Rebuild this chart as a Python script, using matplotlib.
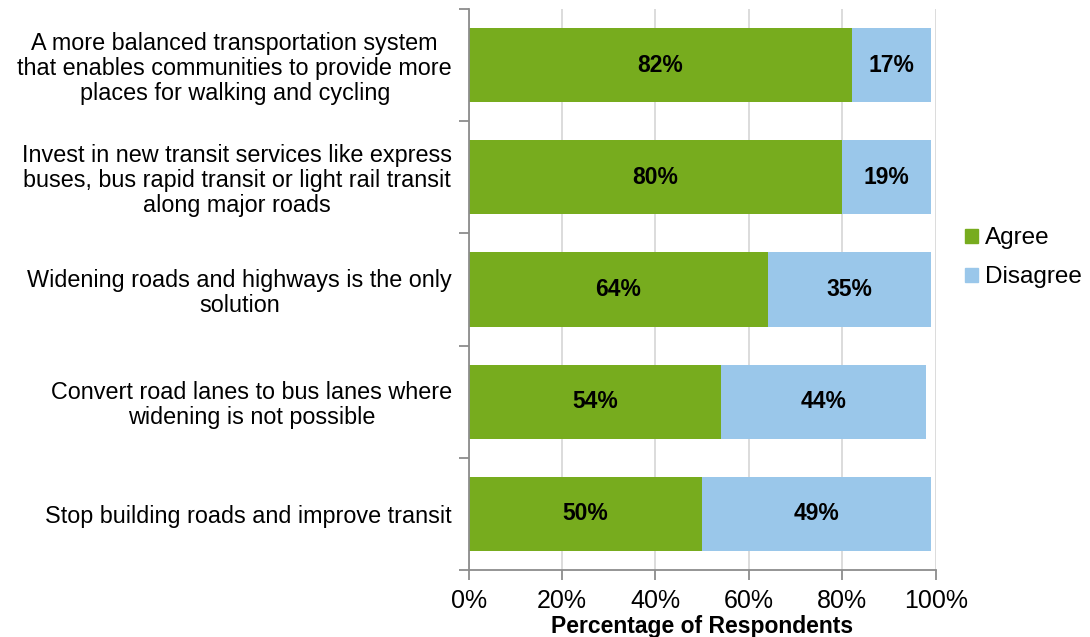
import numpy as np
import matplotlib.pyplot as plt
from matplotlib.patches import Patch

plt.rcParams['font.family'] = ['Liberation Sans', 'DejaVu Sans']

statements = [
    "A more balanced transportation system\nthat enables communities to provide more\nplaces for walking and cycling",
    "Invest in new transit services like express\nbuses, bus rapid transit or light rail transit\nalong major roads",
    "Widening roads and highways is the only\nsolution",
    "Convert road lanes to bus lanes where\nwidening is not possible",
    "Stop building roads and improve transit",
]
agree = [82, 80, 64, 54, 50]
disagree = [17, 19, 35, 44, 49]
x_ticks = [0, 20, 40, 60, 80, 100]

green = '#77AC1E'
blue = '#9AC7EA'
axis_grey = '#8C8C8C'

fig = plt.figure(figsize=(10.9, 6.37), dpi=100)
ax = fig.add_axes([0.430, 0.1052, 0.4284, 0.8807])

y = np.arange(len(statements))
h = 0.66
ax.barh(y, agree, height=h, color=green, zorder=2)
ax.barh(y, disagree, left=agree, height=h, color=blue, zorder=2)

for i in range(len(y)):
    ax.text(agree[i] / 2, y[i], f"{agree[i]}%", ha='center', va='center',
            fontsize=16.5, fontweight='bold', zorder=3)
    ax.text(agree[i] + disagree[i] / 2, y[i], f"{disagree[i]}%", ha='center',
            va='center', fontsize=16.5, fontweight='bold', zorder=3)

ax.set_xlim(0, 100)
ax.set_ylim(len(statements) - 0.5, -0.5)
ax.set_xticks(x_ticks)
ax.set_xticklabels([f"{t}%" for t in x_ticks], fontsize=18)
ax.xaxis.grid(True, color='#D9D9D9', linewidth=1.3, zorder=0)

# category names centred in the band, short ticks on the band edges
ax.set_yticks(y)
ax.set_yticklabels(statements, fontsize=16.8)
for lab in ax.get_yticklabels():
    lab.set_multialignment('center')
    lab.set_linespacing(1.1)
ax.set_yticks(np.arange(-0.5, len(statements)), minor=True)
ax.tick_params(axis='y', which='major', length=0, pad=12)
ax.tick_params(axis='y', which='minor', length=7, color=axis_grey, width=1.3)
ax.tick_params(axis='x', length=7, color=axis_grey, width=1.3, pad=7)

for side in ['top', 'right']:
    ax.spines[side].set_visible(False)
for side in ['left', 'bottom']:
    ax.spines[side].set_color(axis_grey)
    ax.spines[side].set_linewidth(1.3)

ax.set_xlabel("Percentage of Respondents", fontsize=16.5, fontweight='bold',
              labelpad=1)

handles = [Patch(color=green, label='Agree'), Patch(color=blue, label='Disagree')]
fig.legend(handles=handles, loc='center left', bbox_to_anchor=(0.885, 0.595),
           frameon=False, fontsize=17.5, handlelength=0.55, handleheight=0.55,
           handletextpad=0.3, labelspacing=0.7, borderpad=0, borderaxespad=0)

fig.savefig("out.png", dpi=100)
